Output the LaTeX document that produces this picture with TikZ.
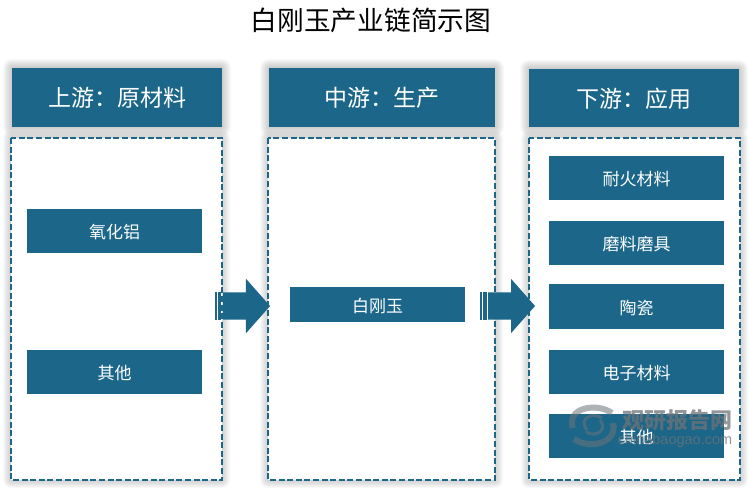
\documentclass[tikz,border=0pt]{standalone}
\usepackage{fontspec}
\setmainfont{Noto Sans CJK SC}
\setsansfont{Liberation Sans}
\usetikzlibrary{shapes.arrows}
\definecolor{chainblue}{HTML}{1B6689}
\definecolor{markgray}{HTML}{6E7478}
\def\softhalo(#1,#2)(#3,#4)[#5]{\foreach \s in {1,...,#5}{\fill[black,opacity=0.022,rounded corners=\s pt] (#1-\s,#2-\s) rectangle (#3+\s,#4+\s);}}
\tikzset{
	headbox/.style={fill=chainblue, text=white, inner sep=0, text height=18.8pt, text depth=0pt, font=\fontsize{23}{25}\selectfont},
	itembox/.style={fill=chainblue, text=white, inner sep=0, minimum width=175, text height=15.4pt, text depth=0pt, font=\fontsize{17}{19}\selectfont},
	framebox/.style={draw=chainblue, fill=white, line width=1.6, dash pattern=on 6pt off 2.6pt},
	flowarrow/.style={single arrow, fill=chainblue, inner xsep=0, inner ysep=13.5, minimum height=47, single arrow head extend=13.5, single arrow tip angle=97}
}

\begin{document}
\begin{tikzpicture}[x=1pt,y=-1pt]
	\useasboundingbox (0,0) rectangle (750,489);
	\node (title) at (371,20) {\fontsize{26.7}{29}\selectfont 白刚玉产业链简示图};

	\softhalo(12,68)(222,127)[9]
	\softhalo(269,68)(495,127)[9]
	\softhalo(529,69)(739,127)[9]
	\softhalo(11,138)(222,480)[8]
	\softhalo(268,138)(495,480)[8]
	\softhalo(529,138)(740,480)[8]

	\node[headbox, minimum width=210, minimum height=59] (upstream) at (117,97.5) {上游：原材料};
	\node[headbox, minimum width=226, minimum height=59] (midstream) at (382,97.5) {中游：生产};
	\node[headbox, minimum width=210, minimum height=58] (downstream) at (634,98) {下游：应用};

	\draw[framebox] (11,138) rectangle (222,480);
	\draw[framebox] (268,138) rectangle (495,480);
	\draw[framebox] (529,138) rectangle (740,480);

	\node[itembox, minimum height=44] (alumina) at (114.5,231) {氧化铝};
	\node[itembox, minimum height=44] (otherup) at (114.5,372) {其他};
	\node[itembox, minimum height=35] (corundum) at (377.5,304.5) {白刚玉};
	\node[itembox, minimum height=44] (refractory) at (636.5,178) {耐火材料};
	\node[itembox, minimum height=44] (abrasive) at (636.5,243) {磨料磨具};
	\node[itembox, minimum height=44] (ceramic) at (636.5,306.5) {陶瓷};
	\node[itembox, minimum height=44] (electronic) at (636.5,372) {电子材料};
	\node[itembox, minimum height=44] (otherdown) at (636.5,436) {其他};

	% block arrows with their two stripes
	\node[flowarrow] (arrowa) at (240.5,306) {};
	\node[flowarrow] (arrowb) at (505.5,306) {};
	\fill[chainblue] (215,292.5) rectangle (216.5,320);
	\fill[chainblue] (218,292.5) rectangle (221,320);
	\fill[chainblue] (480,292.5) rectangle (482,320);
	\fill[chainblue] (483.3,292.5) rectangle (486.7,320);

	% watermark
	\draw[markgray,opacity=0.55,line width=6] (573,428) .. controls (566,408) and (596,402) .. (612,413);
	\draw[markgray,opacity=0.55,line width=6] (613,423) .. controls (618,443) and (590,450) .. (574,439);
	\draw[markgray,opacity=0.55,line width=3] (587,430) .. controls (578,418) and (592,412) .. (602,418);
	\draw[markgray,opacity=0.55,line width=3] (600,420) .. controls (608,430) and (596,438) .. (586,432);
	\node[text=markgray,opacity=0.75] (markcn) at (677,420) {\fontsize{22}{24}\selectfont\bfseries 观研报告网};
	\node[text=markgray,opacity=0.75] (markurl) at (675,441) {\sffamily\fontsize{14.5}{16}\selectfont chinabaogao.com};
\end{tikzpicture}
\end{document}
